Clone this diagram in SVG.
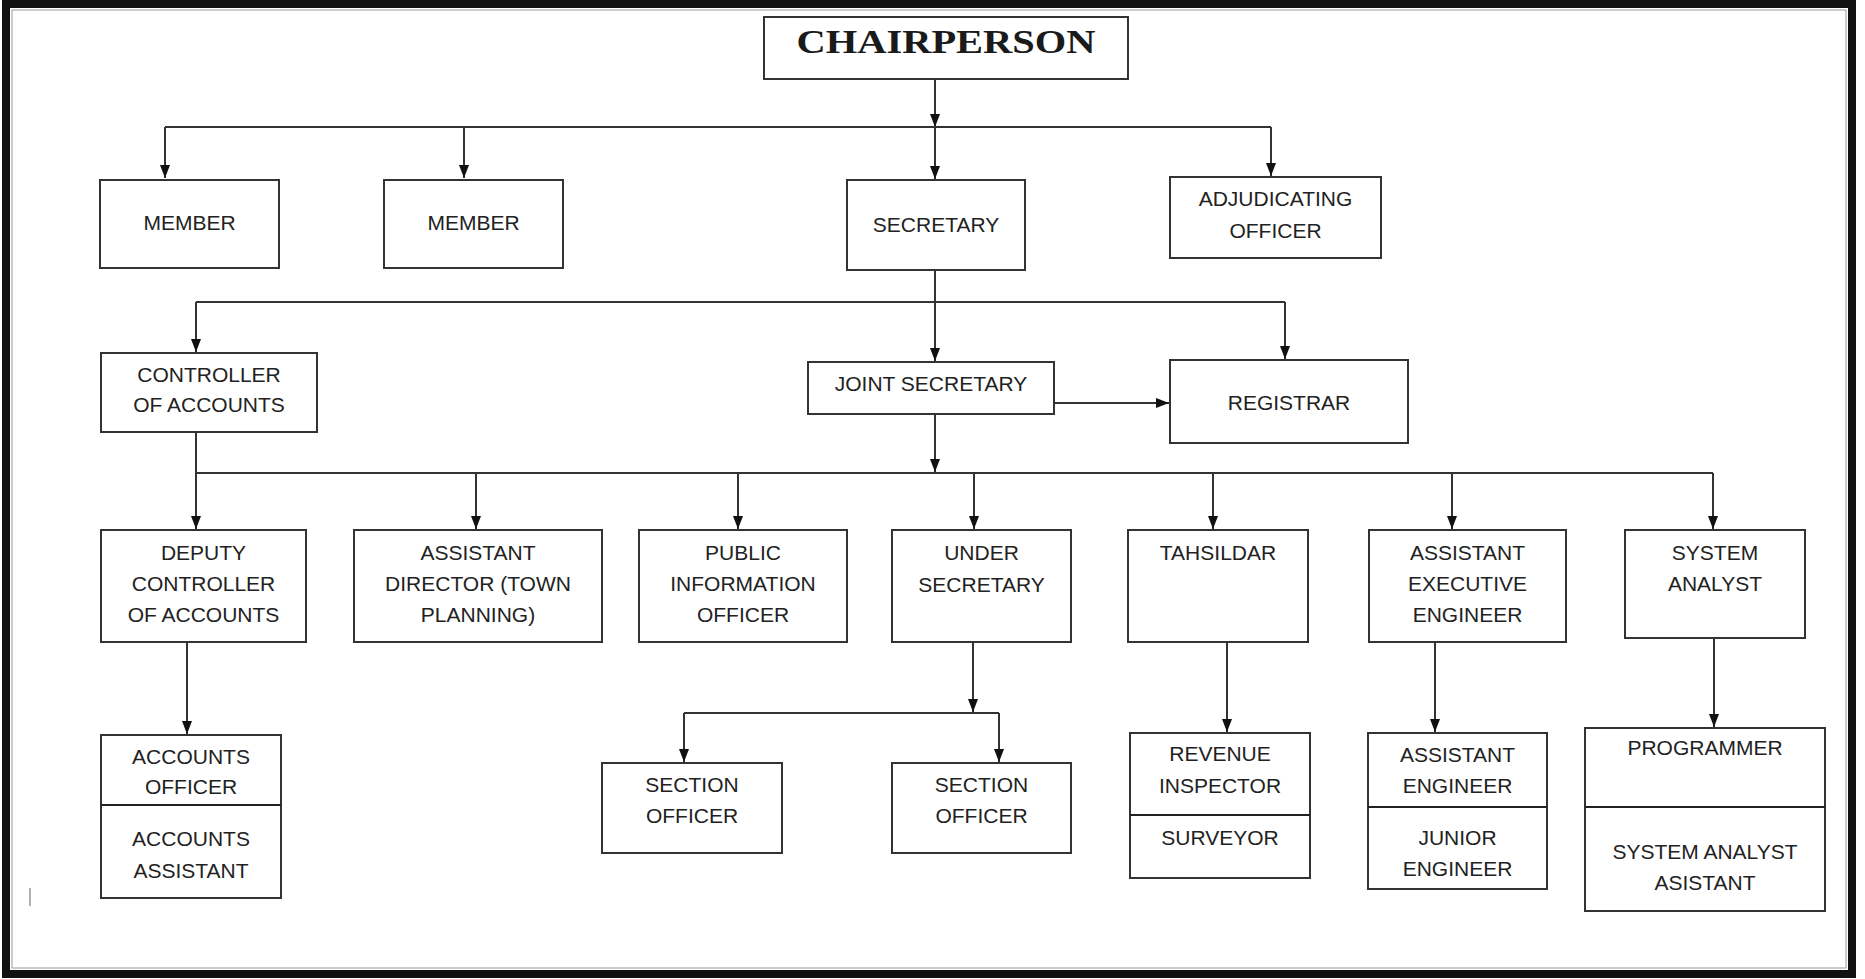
<svg xmlns="http://www.w3.org/2000/svg" width="1865" height="979" viewBox="0 0 1865 979">
<style>
.box{fill:#fff;stroke:#333;stroke-width:2}
.div{stroke:#222;stroke-width:2}
.t{font-family:"Liberation Sans",Arial,sans-serif;font-size:21px;fill:#222;text-anchor:middle}
.title{font-family:"Liberation Serif","Times New Roman",serif;font-size:34px;font-weight:bold;fill:#1a1a1a;text-anchor:middle}
.c{fill:none;stroke:#333;stroke-width:2}
</style>
<defs>
<marker id="ah" markerUnits="userSpaceOnUse" markerWidth="13" markerHeight="10" refX="13" refY="5" orient="auto">
<path d="M0,0 L13,5 L0,10 z" fill="#111"/>
</marker>
</defs>
<rect x="0" y="0" width="1865" height="979" fill="#fff"/>
<rect x="6" y="4" width="1846" height="970" fill="none" stroke="#111" stroke-width="8"/>
<rect x="12" y="10" width="1834" height="958" fill="none" stroke="#999" stroke-width="1"/>
<line x1="30" y1="888" x2="30" y2="906" stroke="#999" stroke-width="1.5"/>

<g id="connectors">
<path class="c" d="M935,79 V127" marker-end="url(#ah)"/>
<path class="c" d="M165,127 H1271"/>
<path class="c" d="M165,127 V178" marker-end="url(#ah)"/>
<path class="c" d="M464,127 V178" marker-end="url(#ah)"/>
<path class="c" d="M935,127 V179" marker-end="url(#ah)"/>
<path class="c" d="M1271,127 V176" marker-end="url(#ah)"/>
<path class="c" d="M935,270 V361" marker-end="url(#ah)"/>
<path class="c" d="M196,302 H1285"/>
<path class="c" d="M196,302 V352" marker-end="url(#ah)"/>
<path class="c" d="M1285,302 V359" marker-end="url(#ah)"/>
<path class="c" d="M1054,403 H1169" marker-end="url(#ah)"/>
<path class="c" d="M935,414 V472" marker-end="url(#ah)"/>
<path class="c" d="M196,473 H1713"/>
<path class="c" d="M196,432 V529" marker-end="url(#ah)"/>
<path class="c" d="M476,473 V529" marker-end="url(#ah)"/>
<path class="c" d="M738,473 V529" marker-end="url(#ah)"/>
<path class="c" d="M974,473 V529" marker-end="url(#ah)"/>
<path class="c" d="M1213,473 V529" marker-end="url(#ah)"/>
<path class="c" d="M1452,473 V529" marker-end="url(#ah)"/>
<path class="c" d="M1713,473 V529" marker-end="url(#ah)"/>
<path class="c" d="M187,642 V734" marker-end="url(#ah)"/>
<path class="c" d="M973,642 V712" marker-end="url(#ah)"/>
<path class="c" d="M684,713 H999"/>
<path class="c" d="M684,713 V762" marker-end="url(#ah)"/>
<path class="c" d="M999,713 V762" marker-end="url(#ah)"/>
<path class="c" d="M1227,642 V732" marker-end="url(#ah)"/>
<path class="c" d="M1435,642 V732" marker-end="url(#ah)"/>
<path class="c" d="M1714,638 V727" marker-end="url(#ah)"/>
</g>

<g id="chairperson">
<rect class="box" x="764" y="17" width="364" height="62"/>
<text class="title" x="946" y="53" textLength="299" lengthAdjust="spacingAndGlyphs">CHAIRPERSON</text>
</g>
<g id="member1">
<rect class="box" x="100" y="180" width="179" height="88"/>
<text class="t" x="189.5" y="230">MEMBER</text>
</g>
<g id="member2">
<rect class="box" x="384" y="180" width="179" height="88"/>
<text class="t" x="473.5" y="230">MEMBER</text>
</g>
<g id="secretary">
<rect class="box" x="847" y="180" width="178" height="90"/>
<text class="t" x="936" y="232">SECRETARY</text>
</g>
<g id="adjudicating-officer">
<rect class="box" x="1170" y="177" width="211" height="81"/>
<text class="t" x="1275.5" y="206">ADJUDICATING</text>
<text class="t" x="1275.5" y="238">OFFICER</text>
</g>
<g id="controller-of-accounts">
<rect class="box" x="101" y="353" width="216" height="79"/>
<text class="t" x="209" y="382">CONTROLLER</text>
<text class="t" x="209" y="412">OF ACCOUNTS</text>
</g>
<g id="joint-secretary">
<rect class="box" x="808" y="362" width="246" height="52"/>
<text class="t" x="931" y="391">JOINT SECRETARY</text>
</g>
<g id="registrar">
<rect class="box" x="1170" y="360" width="238" height="83"/>
<text class="t" x="1289" y="410">REGISTRAR</text>
</g>
<g id="deputy-controller">
<rect class="box" x="101" y="530" width="205" height="112"/>
<text class="t" x="203.5" y="560">DEPUTY</text>
<text class="t" x="203.5" y="591">CONTROLLER</text>
<text class="t" x="203.5" y="622">OF ACCOUNTS</text>
</g>
<g id="assistant-director">
<rect class="box" x="354" y="530" width="248" height="112"/>
<text class="t" x="478" y="560">ASSISTANT</text>
<text class="t" x="478" y="591">DIRECTOR (TOWN</text>
<text class="t" x="478" y="622">PLANNING)</text>
</g>
<g id="public-information-officer">
<rect class="box" x="639" y="530" width="208" height="112"/>
<text class="t" x="743" y="560">PUBLIC</text>
<text class="t" x="743" y="591">INFORMATION</text>
<text class="t" x="743" y="622">OFFICER</text>
</g>
<g id="under-secretary">
<rect class="box" x="892" y="530" width="179" height="112"/>
<text class="t" x="981.5" y="560">UNDER</text>
<text class="t" x="981.5" y="592">SECRETARY</text>
</g>
<g id="tahsildar">
<rect class="box" x="1128" y="530" width="180" height="112"/>
<text class="t" x="1218" y="560">TAHSILDAR</text>
</g>
<g id="assistant-executive-engineer">
<rect class="box" x="1369" y="530" width="197" height="112"/>
<text class="t" x="1467.5" y="560">ASSISTANT</text>
<text class="t" x="1467.5" y="591">EXECUTIVE</text>
<text class="t" x="1467.5" y="622">ENGINEER</text>
</g>
<g id="system-analyst">
<rect class="box" x="1625" y="530" width="180" height="108"/>
<text class="t" x="1715" y="560">SYSTEM</text>
<text class="t" x="1715" y="591">ANALYST</text>
</g>
<g id="accounts-officer">
<rect class="box" x="101" y="735" width="180" height="163"/>
<line class="div" x1="101" y1="805" x2="281" y2="805"/>
<text class="t" x="191" y="764">ACCOUNTS</text>
<text class="t" x="191" y="794">OFFICER</text>
<text class="t" x="191" y="846">ACCOUNTS</text>
<text class="t" x="191" y="878">ASSISTANT</text>
</g>
<g id="section-officer-1">
<rect class="box" x="602" y="763" width="180" height="90"/>
<text class="t" x="692" y="792">SECTION</text>
<text class="t" x="692" y="823">OFFICER</text>
</g>
<g id="section-officer-2">
<rect class="box" x="892" y="763" width="179" height="90"/>
<text class="t" x="981.5" y="792">SECTION</text>
<text class="t" x="981.5" y="823">OFFICER</text>
</g>
<g id="revenue-inspector">
<rect class="box" x="1130" y="733" width="180" height="145"/>
<line class="div" x1="1130" y1="815" x2="1310" y2="815"/>
<text class="t" x="1220" y="761">REVENUE</text>
<text class="t" x="1220" y="793">INSPECTOR</text>
<text class="t" x="1220" y="845">SURVEYOR</text>
</g>
<g id="assistant-engineer">
<rect class="box" x="1368" y="733" width="179" height="156"/>
<line class="div" x1="1368" y1="807" x2="1547" y2="807"/>
<text class="t" x="1457.5" y="762">ASSISTANT</text>
<text class="t" x="1457.5" y="793">ENGINEER</text>
<text class="t" x="1457.5" y="845">JUNIOR</text>
<text class="t" x="1457.5" y="876">ENGINEER</text>
</g>
<g id="programmer">
<rect class="box" x="1585" y="728" width="240" height="183"/>
<line class="div" x1="1585" y1="807" x2="1825" y2="807"/>
<text class="t" x="1705" y="755">PROGRAMMER</text>
<text class="t" x="1705" y="859">SYSTEM ANALYST</text>
<text class="t" x="1705" y="890">ASISTANT</text>
</g>
</svg>
